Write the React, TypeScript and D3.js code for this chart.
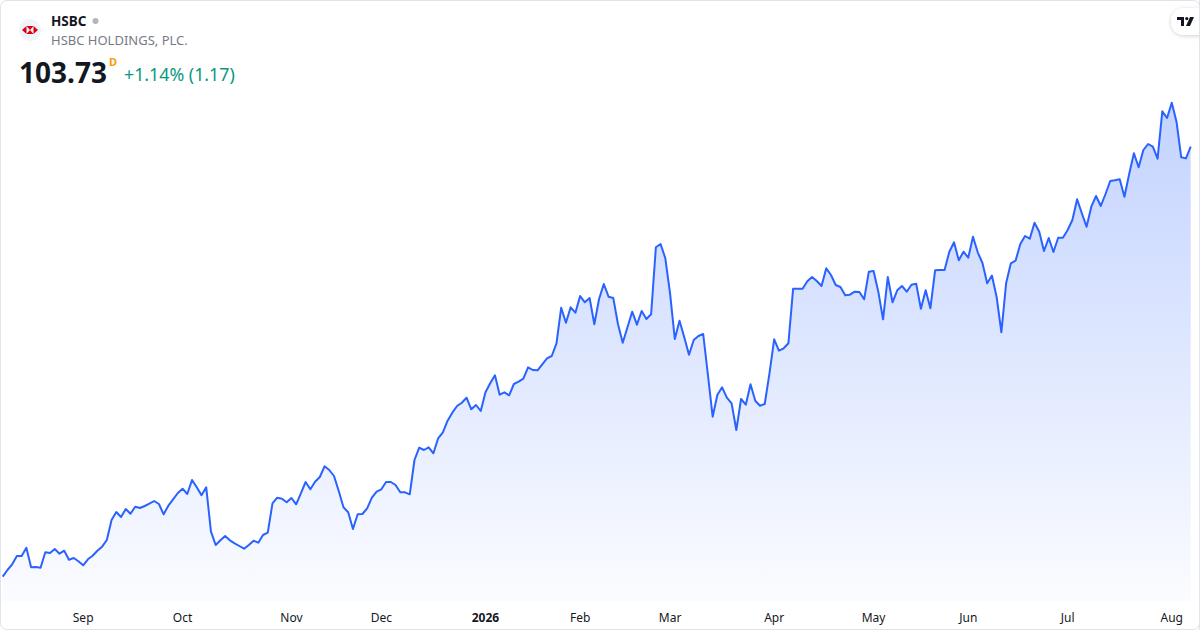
import React, { useEffect, useRef } from 'react';
import * as d3 from 'd3';

const width = 1200;
const height = 630;

// market holidays skipped between the first and last bar
const holidays = [
  '2025-09-01', '2025-11-27', '2025-12-25', '2026-01-01', '2026-01-19',
  '2026-02-16', '2026-04-03', '2026-05-25', '2026-06-19', '2026-07-03',
];
const startDay = '2025-08-07';
const endDay = '2026-08-07';

// daily close, HSBC
const closes = [
  60.73, 61.4, 61.97, 62.8, 62.8, 63.63, 61.67, 61.7, 61.63, 63.17,
  63.1, 63.5, 63.03, 63.33, 62.43, 62.6, 62.27, 61.87, 62.47, 62.83,
  63.33, 63.73, 64.4, 66.4, 67.2, 66.7, 67.5, 67.03, 67.73, 67.6,
  67.8, 68.03, 68.3, 68.0, 66.97, 67.83, 68.47, 69.1, 69.53, 69.0,
  70.4, 69.67, 68.87, 69.67, 65.23, 63.9, 64.37, 64.8, 64.37, 64.07,
  63.8, 63.53, 63.9, 64.33, 64.13, 64.9, 65.13, 68.07, 68.63, 68.53,
  68.17, 68.6, 67.97, 69.07, 70.2, 69.47, 70.23, 70.7, 71.77, 71.4,
  70.8, 69.3, 67.67, 67.17, 65.5, 66.97, 67.0, 67.57, 68.63, 69.23,
  69.47, 70.2, 70.2, 69.9, 69.17, 69.17, 68.97, 72.4, 73.63, 73.4,
  73.67, 73.07, 74.57, 75.17, 76.33, 77.13, 77.8, 78.13, 78.63, 77.47,
  77.9, 77.3, 79.17, 80.07, 80.87, 78.93, 79.17, 78.87, 80.0, 80.23,
  80.53, 81.67, 81.4, 81.37, 81.97, 82.57, 82.8, 84.07, 87.63, 86.13,
  87.67, 87.13, 88.8, 88.17, 88.6, 85.97, 88.5, 90.0, 88.73, 88.6,
  85.97, 84.13, 85.67, 87.23, 85.93, 87.3, 86.5, 86.97, 93.67, 94.0,
  92.57, 89.07, 84.5, 86.33, 84.67, 82.93, 84.4, 84.8, 85.0, 80.9,
  76.73, 78.93, 79.67, 78.63, 78.07, 75.4, 78.5, 77.93, 79.97, 78.33,
  77.83, 78.0, 81.07, 84.47, 83.33, 83.57, 84.07, 89.53, 89.53, 89.53,
  90.27, 90.7, 90.3, 89.8, 91.57, 90.9, 89.9, 89.7, 88.87, 88.93,
  89.23, 89.2, 88.47, 91.23, 91.3, 89.23, 86.47, 90.7, 88.17, 89.37,
  89.8, 89.23, 89.93, 90.03, 87.53, 89.37, 87.57, 91.37, 91.4, 91.4,
  93.23, 94.17, 92.37, 93.23, 92.63, 94.73, 93.17, 92.1, 90.07, 90.85,
  88.7, 85.17, 90.07, 92.07, 92.33, 94.0, 94.8, 94.53, 96.13, 95.23,
  93.3, 94.6, 93.2, 94.63, 94.63, 95.4, 96.4, 98.47, 97.07, 95.73,
  97.73, 98.8, 97.8, 99.0, 100.3, 100.37, 100.47, 98.73, 101.0, 103.07,
  101.67, 103.4, 104.0, 103.73, 102.53, 107.27, 106.6, 108.13, 106.23, 102.67,
  102.56, 103.73,
];

const symbol = 'HSBC';
const company = 'HSBC HOLDINGS, PLC.';
const lastPrice = '103.73';
const change = '+1.14% (1.17)';

const monthNames = ['Jan', 'Feb', 'Mar', 'Apr', 'May', 'Jun', 'Jul', 'Aug', 'Sep', 'Oct', 'Nov', 'Dec'];

const tradingDays = (() => {
  const out: Date[] = [];
  const skip = new Set(holidays);
  const fmt = d3.utcFormat('%Y-%m-%d');
  for (let d = new Date(startDay + 'T00:00:00Z'); d <= new Date(endDay + 'T00:00:00Z'); d = d3.utcDay.offset(d, 1)) {
    const wd = d.getUTCDay();
    if (wd === 0 || wd === 6 || skip.has(fmt(d))) continue;
    out.push(d);
  }
  return out;
})();

const App = () => {
  const svgRef = useRef<SVGSVGElement | null>(null);

  useEffect(() => {
    if (!svgRef.current) return;
    const svg = d3.select(svgRef.current);
    svg.selectAll('*').remove();

    const data = closes.map((c, i) => ({ date: tradingDays[i], i, c }));

    const x = d3.scaleLinear().domain([0, data.length - 1]).range([2.7, 1190.7]);
    const y = d3.scaleLinear().domain(d3.extent(closes) as [number, number]).range([576.7, 102.7]);
    const plotBottom = 601;

    // card
    svg.append('rect')
      .attr('x', 0.5).attr('y', 0.5)
      .attr('width', width - 1).attr('height', height - 1)
      .attr('rx', 6)
      .attr('fill', '#ffffff')
      .attr('stroke', '#e0e3eb');

    const defs = svg.append('defs');
    const grad = defs.append('linearGradient')
      .attr('id', 'areaFill')
      .attr('gradientUnits', 'userSpaceOnUse')
      .attr('x1', 0).attr('x2', 0)
      .attr('y1', y(d3.max(closes)!)).attr('y2', plotBottom);
    grad.append('stop').attr('offset', 0).attr('stop-color', '#2962ff').attr('stop-opacity', 0.28);
    grad.append('stop').attr('offset', 1).attr('stop-color', '#2962ff').attr('stop-opacity', 0.02);

    const filt = defs.append('filter').attr('id', 'pillShadow').attr('x', '-50%').attr('y', '-50%').attr('width', '200%').attr('height', '200%');
    filt.append('feDropShadow').attr('dx', 0).attr('dy', 1).attr('stdDeviation', 2).attr('flood-color', '#000').attr('flood-opacity', 0.18);

    const area = d3.area<typeof data[0]>()
      .x((d) => x(d.i))
      .y0(plotBottom)
      .y1((d) => y(d.c));

    const line = d3.line<typeof data[0]>()
      .x((d) => x(d.i))
      .y((d) => y(d.c));

    svg.append('path').attr('d', area(data)!).attr('fill', 'url(#areaFill)');
    svg.append('path')
      .attr('d', line(data)!)
      .attr('fill', 'none')
      .attr('stroke', '#2962ff')
      .attr('stroke-width', 2)
      .attr('stroke-linejoin', 'round');

    // month ticks at the first bar of each month
    const ticks = data.filter((d, k) => k > 0 && d.date.getUTCMonth() !== data[k - 1].date.getUTCMonth());
    svg.append('g')
      .selectAll('text')
      .data(ticks)
      .enter()
      .append('text')
      .attr('x', (d) => x(d.i))
      .attr('y', 622)
      .attr('text-anchor', 'middle')
      .attr('font-family', '"Noto Sans", sans-serif')
      .attr('font-size', 12)
      .attr('font-weight', (d) => (d.date.getUTCMonth() === 0 ? 700 : 400))
      .attr('fill', '#131722')
      .text((d) => (d.date.getUTCMonth() === 0 ? String(d.date.getUTCFullYear()) : monthNames[d.date.getUTCMonth()]));

    // header
    const head = svg.append('g').attr('font-family', '"Noto Sans", sans-serif');
    head.append('circle').attr('cx', 30).attr('cy', 30).attr('r', 11).attr('fill', '#f0f3fa');
    const logo = head.append('g').attr('transform', 'translate(30,30)');
    logo.append('path').attr('d', 'M-8,0 L-3.5,-4 L-3.5,4 Z').attr('fill', '#db0011');
    logo.append('path').attr('d', 'M8,0 L3.5,-4 L3.5,4 Z').attr('fill', '#db0011');
    logo.append('path').attr('d', 'M-3.5,-4 L3.5,-4 L0,0 Z').attr('fill', '#db0011');
    logo.append('path').attr('d', 'M-3.5,4 L3.5,4 L0,0 Z').attr('fill', '#db0011');

    head.append('text').attr('x', 51).attr('y', 26).attr('font-size', 13.5).attr('font-weight', 700).attr('fill', '#131722').text(symbol);
    head.append('circle').attr('cx', 95.5).attr('cy', 21).attr('r', 3).attr('fill', '#b2b5be');
    head.append('text').attr('x', 51).attr('y', 45).attr('font-size', 13).attr('fill', '#787b86').text(company);
    head.append('text').attr('x', 19).attr('y', 83).attr('font-size', 28).attr('font-weight', 700).attr('fill', '#131722').text(lastPrice);
    head.append('text').attr('x', 109).attr('y', 66).attr('font-size', 11).attr('font-weight', 700).attr('fill', '#ff9800').text('D');
    head.append('text').attr('x', 124).attr('y', 81).attr('font-size', 17.8).attr('fill', '#089981').text(change);

    // TradingView badge
    svg.append('rect')
      .attr('x', 1171).attr('y', 8).attr('width', 40).attr('height', 27).attr('rx', 13)
      .attr('fill', '#ffffff').attr('filter', 'url(#pillShadow)');
    const tv = svg.append('g').attr('transform', 'translate(1177,17)').attr('fill', '#131722');
    tv.append('path').attr('d', 'M0,0 H7 V9 H4 V3 H0 Z');
    tv.append('circle').attr('cx', 9.8).attr('cy', 1.6).attr('r', 1.6);
    tv.append('path').attr('d', 'M13,0 H17 L13,9 H9 Z');
    svg.append('rect').attr('x', 1199).attr('y', 0).attr('width', 1).attr('height', height).attr('fill', '#e0e3eb');
  }, []);

  return (
    <div style={{ position: 'absolute', left: 0, top: 0 }}>
      <svg ref={svgRef} width={width} height={height} style={{ display: 'block' }}></svg>
    </div>
  );
};

export default App;
